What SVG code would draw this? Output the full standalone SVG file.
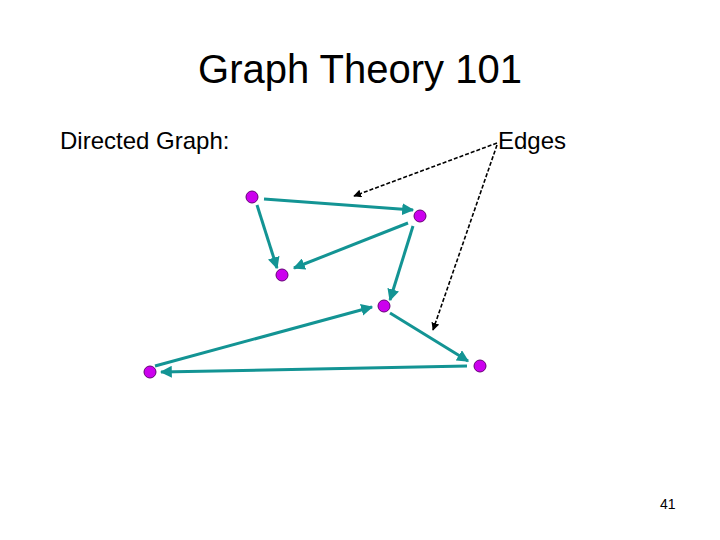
<svg xmlns="http://www.w3.org/2000/svg" width="720" height="540" viewBox="0 0 720 540">
<style>
.t{font-family:"Liberation Sans",Arial,sans-serif;fill:#000}
.e{stroke:#139494;stroke-width:3;fill:none;marker-end:url(#ta)}
.d{stroke:#000;stroke-width:1.6;stroke-dasharray:4,2;fill:none;marker-end:url(#ba)}
.n{fill:#cc00ee;stroke:#660077;stroke-width:1}
</style>
<defs>
<marker id="ta" viewBox="0 0 10 10" refX="9" refY="5" markerWidth="4" markerHeight="4" orient="auto"><path d="M0,0L10,5L0,10z" fill="#139494"/></marker>
<marker id="ba" viewBox="0 0 10 10" refX="9" refY="5" markerWidth="5" markerHeight="5" orient="auto"><path d="M0,0L10,5L0,10z" fill="#000"/></marker>
</defs>
<rect width="720" height="540" fill="#fff"/>
<text class="t" x="360" y="83" font-size="40" text-anchor="middle">Graph Theory 101</text>
<text class="t" x="60" y="149" font-size="24">Directed Graph:</text>
<text class="t" x="498" y="149" font-size="24">Edges</text>
<text class="t" x="660" y="509" font-size="14">41</text>
<g id="connectors">
<line class="e" x1="264" y1="199" x2="413" y2="210"/>
<line class="e" x1="257" y1="205" x2="277" y2="268"/>
<line class="e" x1="408" y1="223" x2="294" y2="268"/>
<line class="e" x1="413" y1="226" x2="390" y2="300"/>
<line class="e" x1="390" y1="313" x2="468" y2="361"/>
<line class="e" x1="467" y1="366" x2="161" y2="372"/>
<line class="e" x1="155" y1="366" x2="372" y2="307"/>
<line class="d" x1="497" y1="143" x2="354" y2="196"/>
<line class="d" x1="497" y1="145" x2="433" y2="330"/>
</g>
<g id="nA"><circle class="n" cx="252" cy="197" r="6"/></g>
<g id="nB"><circle class="n" cx="420" cy="216" r="6"/></g>
<g id="nC"><circle class="n" cx="282" cy="275" r="6"/></g>
<g id="nD"><circle class="n" cx="384" cy="306" r="6"/></g>
<g id="nE"><circle class="n" cx="480" cy="366" r="6"/></g>
<g id="nF"><circle class="n" cx="150" cy="372" r="6"/></g>
</svg>
